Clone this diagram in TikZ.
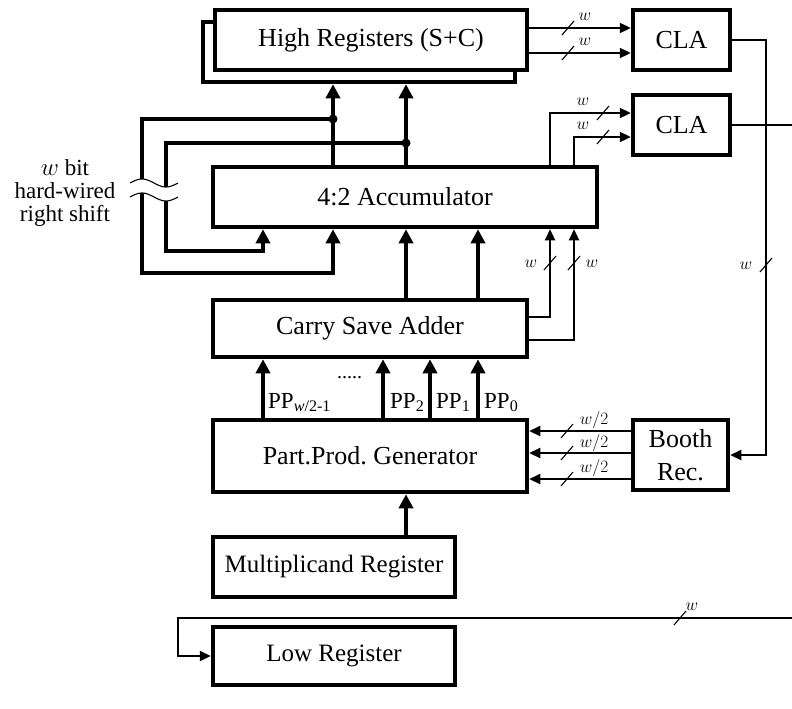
\documentclass[tikz,border=0pt]{standalone}
\usepackage{fontspec}
\setmainfont{Liberation Serif}
\usetikzlibrary{arrows.meta,calc}
\begin{document}
\frenchspacing
\begin{tikzpicture}[x=1pt,y=-1pt,
  box/.style={draw,line width=4.5pt,fill=white,inner sep=0pt,align=center,
              font=\fontsize{26}{30}\selectfont},
  thk/.style={line width=4.2pt},
  thn/.style={line width=2.3pt},
  barr/.style={-{Triangle[length=14pt,width=14pt]}},
  sarr/.style={-{Triangle[length=11pt,width=10pt]}},
  slashst/.style={line width=1.1pt},
  lbl/.style={inner sep=0pt,font=\fontsize{19}{20}\selectfont},
  pplbl/.style={inner sep=0pt,font=\fontsize{23}{24}\selectfont,anchor=base west},
]
\useasboundingbox (0,0) rectangle (792,709);
% columns
\coordinate (X1) at (263,0);
\coordinate (X2) at (333,0);
\coordinate (X3) at (406,0);
\coordinate (X4) at (478,0);
\coordinate (X5) at (550,0);
\coordinate (X6) at (574,0);
\coordinate (X7) at (383,0);
\coordinate (X8) at (430,0);
\coordinate (XR) at (766,0);
% boxes
\node[box,minimum width=312pt,minimum height=60pt] (hrb) at (359,52) {};
\node[box,minimum width=312pt,minimum height=60pt] (hr) at (371,40) {High Registers (S+C)};
\node[box,minimum width=97pt,minimum height=60pt] (cla1) at (681.5,40) {CLA};
\node[box,minimum width=97pt,minimum height=60pt] (cla2) at (681.5,125) {CLA};
\node[box,minimum width=384pt,minimum height=60pt] (acc) at (405,197) {4:2 Accumulator};
\node[box,minimum width=314pt,minimum height=57pt] (csa) at (370,328.5) {Carry Save Adder};
\node[box,minimum width=314pt,minimum height=72pt] (ppg) at (370,456) {Part.Prod. Generator};
\node[box,minimum width=95pt,minimum height=70pt] (booth) at (680.5,455) {Booth\\[3pt]Rec.};
\node[box,minimum width=242pt,minimum height=60pt,font=\fontsize{25}{30}\selectfont] (mult) at (334,567) {Multiplicand Register};
\node[box,minimum width=242pt,minimum height=58pt,font=\fontsize{25}{30}\selectfont] (low) at (334,656) {Low Register};

% high registers -> CLA1
\draw[thn,sarr] ([yshift=12pt]hr.east) coordinate (h1) -- (h1 -| cla1.west);
\draw[thn,sarr] ([yshift=-13pt]hr.east) coordinate (h2) -- (h2 -| cla1.west);
% accumulator -> CLA2
\draw[thn,sarr] (acc.north -| X5) |- ([yshift=12pt]cla2.west);
\draw[thn,sarr] (acc.north -| X6) |- ([yshift=-12pt]cla2.west);
% CSA -> accumulator (thin)
\draw[thn,sarr] ([yshift=11.5pt]csa.east) -| (acc.south -| X5);
\draw[thn,sarr] ([yshift=-11.5pt]csa.east) -| (acc.south -| X6);
% CLA outputs
\draw[thn,sarr] (cla1.east) -| (XR |- booth.east) -- (booth.east);
\coordinate (R2) at (792,125);
\draw[thn] (cla2.east) -- (R2);
% low register bus
\coordinate (R3) at (792,618);
\coordinate (L3) at (178,618);
\draw[thn,sarr] (R3) -- (L3) |- (low.west);
% Booth -> PPG
\draw[thn,sarr] ([yshift=24pt]booth.west) coordinate (b1) -- (b1 -| ppg.east);
\draw[thn,sarr] ([yshift=2pt]booth.west) coordinate (b2) -- (b2 -| ppg.east);
\draw[thn,sarr] ([yshift=-24pt]booth.west) coordinate (b3) -- (b3 -| ppg.east);

% thick arrows
\draw[thk,barr] (mult.north -| X3) -- (ppg.south -| X3);
\draw[thk,barr] (ppg.north -| X1) -- (csa.south -| X1);
\draw[thk,barr] (ppg.north -| X7) -- (csa.south -| X7);
\draw[thk,barr] (ppg.north -| X8) -- (csa.south -| X8);
\draw[thk,barr] (ppg.north -| X4) -- (csa.south -| X4);
\draw[thk,barr] (csa.north -| X3) -- (acc.south -| X3);
\draw[thk,barr] (csa.north -| X4) -- (acc.south -| X4);
\draw[thk,barr] (acc.north -| X2) -- (hrb.south -| X2);
\draw[thk,barr] (acc.north -| X3) -- (hrb.south -| X3);

% feedback loops
\coordinate (d1) at (333,119);
\coordinate (d2) at (406,143);
\coordinate (o1) at (142,119);
\coordinate (o2) at (142,273);
\coordinate (i1) at (166,143);
\coordinate (i2) at (166,251);
\draw[thk,barr] (d1) -- (o1) -- (o2) -| (acc.south -| X2);
\draw[thk,barr] (d2) -- (i1) -- (i2) -| (acc.south -| X1);
\fill (d1) circle (4.5pt);
\fill (d2) circle (4.5pt);

% break symbol
\fill[white] plot[domain=0:1,samples=30] ({130+48*\x},{183-4*sin(360*\x)})
  -- plot[domain=1:0,samples=30] ({130+48*\x},{197-4*sin(360*\x)}) -- cycle;
\draw[line width=1.1pt] plot[domain=0:1,samples=30] ({130+48*\x},{183-4*sin(360*\x)});
\draw[line width=1.1pt] plot[domain=0:1,samples=30] ({130+48*\x},{197-4*sin(360*\x)});
\node[align=center,inner sep=0pt,font=\fontsize{23}{23.5}\selectfont] (side) at (65,193)
  {$w$ bit\\hard-wired\\right shift};

% bus slashes
\foreach \sx/\sy in {568/28,568/53,603/113,603/137,550/263,574/263,766/265,567/431,567/453,567/479,680/618}{
  \draw[slashst] (\sx-6,\sy+7) -- (\sx+6,\sy-7);
}
% bus labels
\node[lbl] (lw1) at (585,17) {$w$};
\node[lbl] (lw2) at (585,42) {$w$};
\node[lbl] (lw3) at (583,102) {$w$};
\node[lbl] (lw4) at (583,126) {$w$};
\node[lbl] (lw5) at (531,264) {$w$};
\node[lbl] (lw6) at (592,264) {$w$};
\node[lbl] (lw7) at (746,266) {$w$};
\node[lbl] (lb1) at (594,420) {$w/2$};
\node[lbl] (lb2) at (594,443) {$w/2$};
\node[lbl] (lb3) at (594,468) {$w/2$};
\node[lbl] (lw8) at (692,607) {$w$};

% PP labels
\node[pplbl] (pp3) at (268,408) {PP\textsubscript{\textit{w}/2-1}};
\node[pplbl,font=\fontsize{20}{20}\selectfont] (ppd) at (337,378) {.....};
\node[pplbl] (pp2) at (390,408) {PP\textsubscript{2}};
\node[pplbl] (pp1) at (436,408) {PP\textsubscript{1}};
\node[pplbl] (pp0) at (484,408) {PP\textsubscript{0}};
\end{tikzpicture}
\end{document}
